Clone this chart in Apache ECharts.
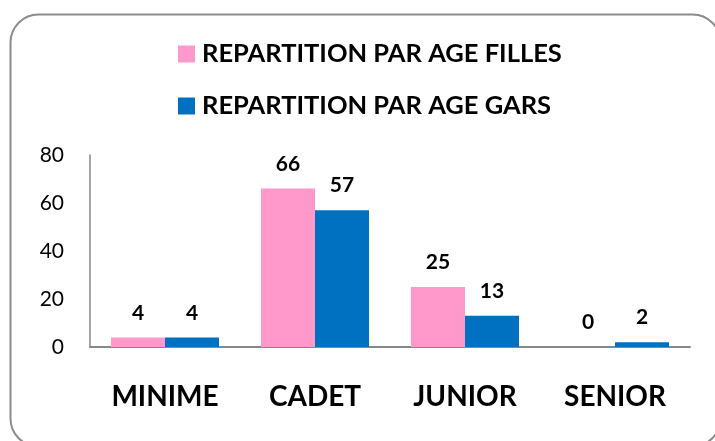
<!DOCTYPE html>
<html><head><meta charset="utf-8">
<script src="https://cdn.jsdelivr.net/npm/echarts@6/dist/echarts.min.js"></script>
<style>html,body{margin:0;padding:0;background:#fff}#c{width:715px;height:441px}</style>
</head><body><div id="c"></div>
<script>
const categories = ['MINIME', 'CADET', 'JUNIOR', 'SENIOR'];
const filles = [4, 66, 25, 0];
const gars = [4, 57, 13, 2];
const seriesNames = ['REPARTITION PAR AGE FILLES', 'REPARTITION PAR AGE GARS'];
const yTicks = { min: 0, max: 80, interval: 20 };

const FONT = 'Lato, "Open Sans", sans-serif';
const chart = echarts.init(document.getElementById('c'), null, { renderer: 'canvas' });
const labelStyle = { show: true, position: 'top', distance: 14, fontFamily: FONT, fontWeight: 'bold', fontSize: 21, color: '#000' };
chart.setOption({
  animation: false,
  graphic: [{ type: 'rect', left: 8, top: 12, shape: { width: 710, height: 432, r: 28 }, style: { fill: 'none', stroke: '#8c8c8c', lineWidth: 2 }, z: -1 }],
  legend: {
    orient: 'vertical', left: 178, top: 41, padding: 0, itemWidth: 17, itemHeight: 17, itemGap: 26,
    icon: 'rect',
    textStyle: { fontFamily: FONT, fontWeight: 'bold', fontSize: 25.5, lineHeight: 26, color: '#000', padding: [0, 0, 0, 2] },
    data: seriesNames
  },
  grid: { left: 90, right: 25, top: 155, bottom: 94 },
  xAxis: {
    type: 'category', data: categories,
    axisLine: { lineStyle: { color: '#888', width: 2 } },
    axisTick: { show: false },
    axisLabel: { margin: 36, fontFamily: FONT, fontWeight: 'bold', fontSize: 28, color: '#000' }
  },
  yAxis: {
    type: 'value', min: yTicks.min, max: yTicks.max, interval: yTicks.interval,
    axisLine: { show: true, lineStyle: { color: '#888', width: 1.5 } },
    axisTick: { show: false },
    splitLine: { show: false },
    axisLabel: { margin: 26, fontFamily: FONT, fontSize: 21, color: '#000' }
  },
  series: [
    { name: seriesNames[0], type: 'bar', data: filles, barGap: '0%', barCategoryGap: '28%', itemStyle: { color: '#FF99CC' }, label: labelStyle },
    { name: seriesNames[1], type: 'bar', data: gars, itemStyle: { color: '#0070C0' }, label: labelStyle }
  ]
});
</script></body></html>
